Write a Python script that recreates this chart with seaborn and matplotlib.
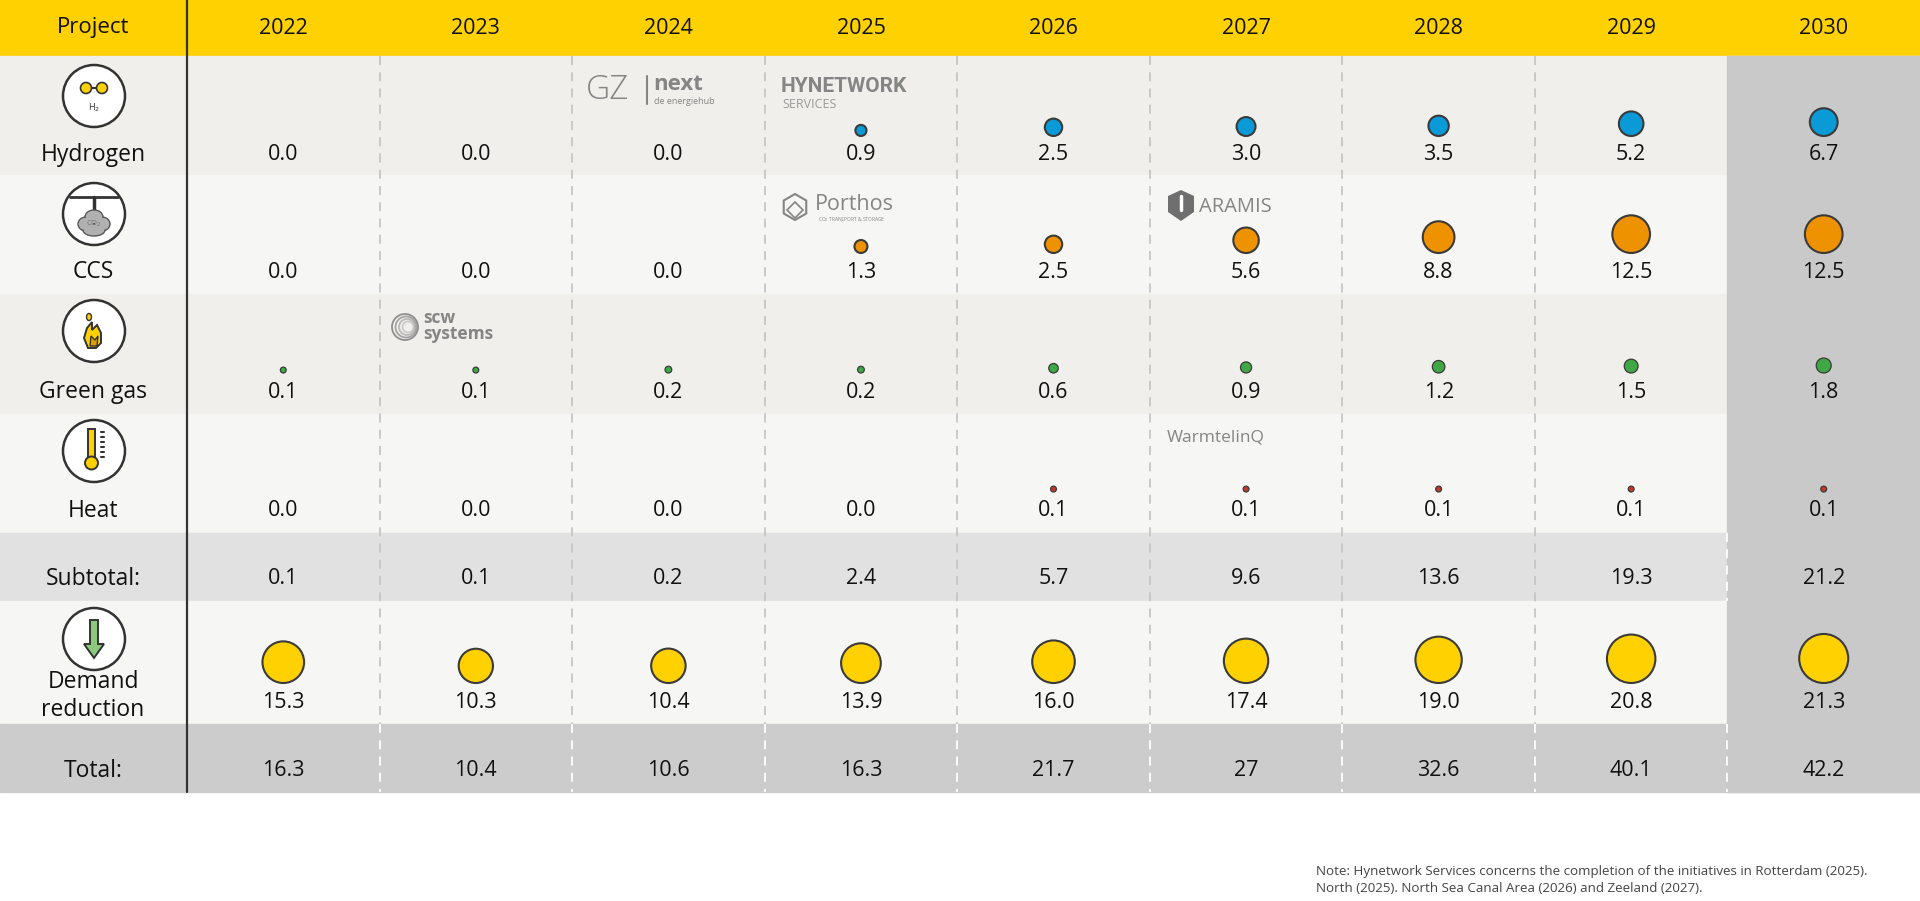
import numpy as np
import pandas as pd
import seaborn as sns
import matplotlib
matplotlib.use("Agg")
import matplotlib.pyplot as plt
from matplotlib.patches import Rectangle, Circle, Ellipse, Polygon, RegularPolygon, FancyArrow

years = [2022, 2023, 2024, 2025, 2026, 2027, 2028, 2029, 2030]
hydrogen = [0.0, 0.0, 0.0, 0.9, 2.5, 3.0, 3.5, 5.2, 6.7]
ccs = [0.0, 0.0, 0.0, 1.3, 2.5, 5.6, 8.8, 12.5, 12.5]
green_gas = [0.1, 0.1, 0.2, 0.2, 0.6, 0.9, 1.2, 1.5, 1.8]
heat = [0.0, 0.0, 0.0, 0.0, 0.1, 0.1, 0.1, 0.1, 0.1]
subtotal = [0.1, 0.1, 0.2, 2.4, 5.7, 9.6, 13.6, 19.3, 21.2]
demand = [15.3, 10.3, 10.4, 13.9, 16.0, 17.4, 19.0, 20.8, 21.3]
total = [16.3, 10.4, 10.6, 16.3, 21.7, 27, 32.6, 40.1, 42.2]

row_names = ["Hydrogen", "CCS", "Green gas", "Heat", "Subtotal:", "Demand\nreduction", "Total:"]
note = ("Note: Hynetwork Services concerns the completion of the initiatives in Rotterdam (2025).\n"
        "North (2025). North Sea Canal Area (2026) and Zeeland (2027).")

# layout in pixels (figure is 1920 x 901, 1 data unit = 1 px)
W, H = 1920, 901
first_col = 187
col_w = (W - first_col) / len(years)
head_h = 56
# (top, bottom, background, y of value text)
row_geom = [(56, 175, "#f0efec", 155),
            (175, 294, "#f6f6f4", 272),
            (294, 414, "#f0efec", 392),
            (414, 533, "#f6f6f4", 511),
            (533, 601, "#e1e1e1", 579),
            (601, 724, "#f6f6f4", 702),
            (724, 792, "#cccccc", 771)]
bubble_colors = {"Hydrogen": "#0a9ad8", "CCS": "#ee9200", "Green gas": "#3fa845",
                 "Heat": "#c0392b", "Demand": "#ffd100"}
k_size = 58.5  # points^2 per unit
s_min = 12     # smallest dot, points^2

sns.set_theme(style="white")
plt.rcParams["font.family"] = ["Open Sans", "DejaVu Sans"]

fig = plt.figure(figsize=(19.2, 9.01), dpi=100)
ax = fig.add_axes([0, 0, 1, 1])

cx = [first_col + col_w * (i + 0.5) for i in range(len(years))]

# backgrounds
ax.add_patch(Rectangle((0, 0), W, head_h, color="#ffd100", zorder=0))
for top, bot, colr, _ in row_geom:
    ax.add_patch(Rectangle((0, top), W, bot - top, color=colr, zorder=0))
ax.add_patch(Rectangle((first_col + col_w * 8, head_h), col_w, 792 - head_h, color="#c9c9c9", zorder=0.5))

# separators
for k in range(1, 9):
    x = first_col + col_w * k
    if k < 8:
        ax.plot([x, x], [head_h, 724], color="#c6c6c6", lw=1.3, ls=(0, (5, 4)), zorder=1)
    else:
        ax.plot([x, x], [533, 601], color="white", lw=1.3, ls=(0, (5, 4)), zorder=1)
    ax.plot([x, x], [724, 792], color="white", lw=1.3, ls=(0, (5, 4)), zorder=1)
ax.plot([first_col, first_col], [0, 792], color="#333333", lw=1.6, zorder=2)

# header
ax.text(first_col / 2, 28, "Project", ha="center", va="center", fontsize=16, color="#111")
for x, yr in zip(cx, years):
    ax.text(x, 29, str(yr), ha="center", va="center", fontsize=15.5, color="#111")

# row labels
label_y = [155, 272, 392, 511, 579, 696, 771]
for name, y in zip(row_names, label_y):
    ax.text(93, y, name, ha="center", va="center", fontsize=16.5, color="#111", linespacing=1.2)

# value texts
series = [hydrogen, ccs, green_gas, heat, subtotal, demand]
for vals, (_, _, _, ty) in zip(series, row_geom[:6]):
    for x, v in zip(cx, vals):
        ax.text(x, ty, f"{v:.1f}", ha="center", va="center", fontsize=15.5, color="#111")
for x, v in zip(cx, total):
    ax.text(x, 771, f"{v:g}", ha="center", va="center", fontsize=15.5, color="#111")

# bubbles (area ~ value, bottom aligned above the number)
bub_rows = [("Hydrogen", hydrogen, 0), ("CCS", ccs, 1), ("Green gas", green_gas, 2),
            ("Heat", heat, 3), ("Demand", demand, 5)]
recs = []
vmax = max(demand)
for name, vals, ri in bub_rows:
    base = row_geom[ri][3] - 19
    for x, v in zip(cx, vals):
        if v <= 0:
            continue
        s = s_min + (k_size * vmax - s_min) * v / vmax
        d_px = np.sqrt(s) / 0.72
        recs.append({"row": name, "x": x, "y": base - d_px / 2, "value": v})
df = pd.DataFrame(recs)
small = df["row"].isin(["Green gas", "Heat"])
for part, lw in [(df[~small], 1.5), (df[small], 0.9)]:
    sns.scatterplot(data=part, x="x", y="y", hue="row", palette=bubble_colors, size="value",
                    sizes=(s_min, k_size * vmax), size_norm=(0, vmax),
                    edgecolor="#3a3a3a", linewidth=lw, legend=False, ax=ax, zorder=5)
ax.set_xlim(0, W)
ax.set_ylim(H, 0)
ax.axis("off")

# icons
dark = "#333333"
icon_y = [96, 214, 331, 451, None, 639]
for y in icon_y:
    if y is None:
        continue
    ax.add_patch(Circle((94, y), 31, facecolor="white", edgecolor=dark, lw=1.8, zorder=3))
# hydrogen
ax.plot([87, 101], [88, 88], color=dark, lw=1.5, zorder=4)
for hx in (86, 102):
    ax.add_patch(Circle((hx, 88), 5.5, facecolor="#ffd100", edgecolor=dark, lw=1.2, zorder=5))
ax.text(94, 108, "H$_2$", ha="center", va="center", fontsize=6.5, color=dark, zorder=5)
# ccs
ax.plot([70, 118], [197, 197], color=dark, lw=2, zorder=4)
ax.plot([94, 94], [197, 213], color=dark, lw=2.5, zorder=4)
for ex, ey, ew, eh in [(86, 224, 16, 14), (102, 224, 16, 14), (94, 217, 18, 14), (94, 230, 22, 12)]:
    ax.add_patch(Ellipse((ex, ey), ew, eh, facecolor="#b0b0b0", edgecolor="#555", lw=1, zorder=4))
for ex, ey, ew, eh in [(86, 224, 14, 12), (102, 224, 14, 12), (94, 217, 16, 12), (94, 230, 20, 10)]:
    ax.add_patch(Ellipse((ex, ey), ew, eh, facecolor="#b0b0b0", edgecolor="none", zorder=4.5))
ax.text(94, 224, "CO$_2$", ha="center", va="center", fontsize=5.5, color="#777", zorder=5)
# green gas flame
flame = [(88, 348), (84, 338), (87, 328), (92, 322), (92, 330), (97, 325), (101, 333), (101, 343), (96, 348)]
ax.add_patch(Polygon(flame, closed=True, facecolor="#ffd100", edgecolor=dark, lw=1.4, zorder=4))
ax.add_patch(Polygon([(90, 346), (91, 336), (95, 340), (98, 336), (97, 346)], closed=True,
                     facecolor="#e0a000", edgecolor=dark, lw=1, zorder=4.5))
ax.add_patch(Ellipse((89, 317), 5, 7, facecolor="#ffd100", edgecolor=dark, lw=1, zorder=4))
# heat thermometer
ax.add_patch(Rectangle((88, 429), 7, 30, facecolor="#ffd100", edgecolor=dark, lw=1.4, zorder=4))
ax.add_patch(Circle((91.5, 463), 6.5, facecolor="#ffd100", edgecolor=dark, lw=1.4, zorder=4))
for ty in range(432, 460, 5):
    ax.plot([101, 104], [ty, ty], color=dark, lw=1.5, zorder=4)
# demand arrow
ax.add_patch(FancyArrow(94, 620, 0, 38, width=8, head_width=20, head_length=14,
                        length_includes_head=True, facecolor="#8cc97f",
                        edgecolor=dark, lw=1.4, zorder=4))

# project logos (grey)
g = "#858585"
ax.text(586, 90, "GZ", ha="left", va="center", fontsize=24, color=g, fontweight="light")
ax.plot([647, 647], [76, 104], color=g, lw=1.5)
ax.text(653, 84, "next", ha="left", va="center", fontsize=16, color=g, fontweight="bold")
ax.text(654, 101, "de energiehub", ha="left", va="center", fontsize=6.5, color=g)
ax.text(781, 86, "HYNETWORK", ha="left", va="center", fontsize=15, color=g, fontweight="bold",
        family=["Roboto", "DejaVu Sans"])
ax.text(782, 105, "SERVICES", ha="left", va="center", fontsize=9, color="#9a9a9a")
ax.add_patch(RegularPolygon((795, 207), 6, radius=13, facecolor="none", edgecolor=g, lw=1.5))
ax.add_patch(RegularPolygon((795, 210), 4, radius=8, facecolor="none", edgecolor=g, lw=1.2))
ax.text(815, 205, "Porthos", ha="left", va="center", fontsize=15.5, color=g)
ax.text(818, 220, "CO$_2$ TRANSPORT & STORAGE", ha="left", va="center", fontsize=3.5, color=g)
ax.add_patch(Polygon([(1168, 196), (1181, 190), (1194, 196), (1194, 212), (1181, 221), (1168, 212)],
                     closed=True, facecolor="#6f6f6f", edgecolor="none"))
ax.plot([1181, 1181], [196, 210], color="white", lw=2.5)
ax.text(1199, 207, "ARAMIS", ha="left", va="center", fontsize=14.5, color=g)
for r, a in zip([13, 10.5, 8, 5.5], [0.9, 0.7, 0.5, 0.35]):
    ax.add_patch(Circle((405 + (13 - r) * 0.4, 327), r, facecolor="none", edgecolor=g, lw=1.3, alpha=a))
ax.text(423, 318, "scw", ha="left", va="center", fontsize=12.5, color=g, fontweight="bold")
ax.text(423, 334, "systems", ha="left", va="center", fontsize=12.5, color=g, fontweight="bold")
ax.text(1167, 437, "WarmtelinQ", ha="left", va="center", fontsize=12.5, color=g)

# note
ax.text(1316, 880, note, ha="left", va="center", fontsize=9.6, color="#444", linespacing=1.3)

fig.savefig("out.png", dpi=100)
